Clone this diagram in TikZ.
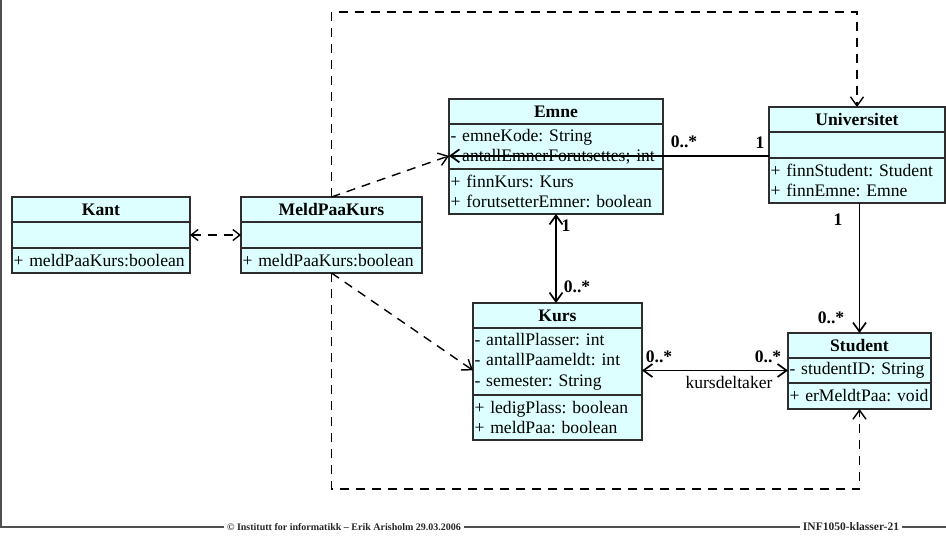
\documentclass[tikz,border=0pt]{standalone}
\usepackage{fontspec}
\setmainfont{Liberation Serif}
\usetikzlibrary{arrows.meta,calc}
\definecolor{classfill}{RGB}{221,255,255}
\definecolor{classline}{RGB}{45,45,45}
\definecolor{footline}{RGB}{80,80,80}
% one unbreakable line of a compartment
\newcommand{\compline}[1]{\mbox{#1}}
\newcommand{\umlfont}{\fontsize{17.6}{20.5}\selectfont\frenchspacing}

\begin{document}
\begin{tikzpicture}[x=1pt,y=-1pt,
  comp/.style={draw=classline, fill=classfill, line width=1.1pt, anchor=north west,
    inner xsep=1.5pt, inner ysep=0pt, outer sep=0pt, font=\umlfont},
  ctitle/.style={comp, align=center, font=\umlfont\bfseries},
  cbody/.style={comp, align=left},
  mult/.style={font=\umlfont\bfseries, inner sep=0pt},
  rolelbl/.style={font=\umlfont, inner sep=0pt},
  assoc/.style={line width=1.7pt, draw=black},
  dep/.style={line width=1.4pt, draw=black, dash pattern=on 9pt off 7pt},
  opentip/.tip={Straight Barb[length=9pt,width=13pt]},
  smalltip/.tip={Straight Barb[length=7pt,width=11pt]},
  foot/.style={font=\fontsize{10}{12}\selectfont\bfseries, inner xsep=3pt, inner ysep=0pt, text=black!85},
  frame/.style={draw=footline, line width=1.2pt}
]
\useasboundingbox (0,0) rectangle (946,547);

% ---------- Kant ----------
\node[ctitle, minimum width=178pt, text width=175pt, minimum height=25pt] (kant-t) at (12,197) {Kant};
\node[cbody, minimum width=178pt, text width=175pt, minimum height=26pt] (kant-m) at (kant-t.south west) {};
\node[cbody, minimum width=178pt, text width=175pt, minimum height=25pt] (kant-o) at (kant-m.south west) {\compline{+ meldPaaKurs:boolean}};

% ---------- MeldPaaKurs ----------
\node[ctitle, minimum width=181pt, text width=178pt, minimum height=25pt] (meld-t) at (241,197) {MeldPaaKurs};
\node[cbody, minimum width=181pt, text width=178pt, minimum height=26pt] (meld-m) at (meld-t.south west) {};
\node[cbody, minimum width=181pt, text width=178pt, minimum height=25pt] (meld-o) at (meld-m.south west) {\compline{+ meldPaaKurs:boolean}};

% ---------- Emne ----------
\node[ctitle, minimum width=214pt, text width=211pt, minimum height=25pt] (emne-t) at (449,99) {Emne};
\node[cbody, minimum width=214pt, text width=211pt, minimum height=45pt] (emne-a) at (emne-t.south west)
  {\compline{- emneKode: String}\\\compline{- antallEmnerForutsettes; int}};
\node[cbody, minimum width=214pt, text width=211pt, minimum height=45pt] (emne-m) at (emne-a.south west)
  {\compline{+ finnKurs: Kurs}\\\compline{+ forutsetterEmner: boolean}};

% ---------- Universitet ----------
\node[ctitle, minimum width=176pt, text width=173pt, minimum height=25pt] (univ-t) at (769,107) {Universitet};
\node[cbody, minimum width=176pt, text width=173pt, minimum height=26pt] (univ-e) at (univ-t.south west) {};
\node[cbody, minimum width=176pt, text width=173pt, minimum height=45pt] (univ-m) at (univ-e.south west)
  {\compline{+ finnStudent: Student}\\\compline{+ finnEmne: Emne}};

% ---------- Kurs ----------
\node[ctitle, minimum width=169pt, text width=166pt, minimum height=25pt] (kurs-t) at (473,303) {Kurs};
\node[cbody, minimum width=169pt, text width=166pt, minimum height=67pt] (kurs-a) at (kurs-t.south west)
  {\compline{- antallPlasser: int}\\\compline{- antallPaameldt: int}\\\compline{- semester: String}};
\node[cbody, minimum width=169pt, text width=166pt, minimum height=45pt] (kurs-m) at (kurs-a.south west)
  {\compline{+ ledigPlass: boolean}\\\compline{+ meldPaa: boolean}};

% ---------- Student ----------
\node[ctitle, minimum width=143pt, text width=140pt, minimum height=25pt] (stud-t) at (788,333) {Student};
\node[cbody, minimum width=143pt, text width=140pt, minimum height=25pt] (stud-a) at (stud-t.south west) {\compline{- studentID: String}};
\node[cbody, minimum width=143pt, text width=140pt, minimum height=26pt] (stud-m) at (stud-a.south west) {\compline{+ erMeldtPaa: void}};

% ---------- dependencies ----------
\draw[dep, {smalltip}-{smalltip}] (kant-m.east) -- (meld-m.west);
\draw[dep, -{opentip}] (meld-t.north) -- (emne-a.185);
\draw[dep, -{opentip}] (meld-o.south) -- (kurs-a.186);
\coordinate (topleft) at (meld-t.north |- 0,12);
\coordinate (botleft) at (meld-o.south |- 0,489);
\draw[dep, -{opentip}] (meld-t.north) -- (topleft) -- (topleft -| univ-t.north) -- (univ-t.north);
\draw[dep, -{opentip}] (meld-o.south) -- (botleft) -- (botleft -| stud-m.south) -- (stud-m.south);

% ---------- associations ----------
\draw[assoc, -{opentip}] (emne-a.185 -| univ-e.west) -- (emne-a.185);
\draw[assoc, {opentip}-{opentip}] (emne-m.south) -- (emne-m.south |- kurs-t.north);
\draw[assoc, -{opentip}] (stud-t.north |- univ-m.south) -- (stud-t.north);
\draw[assoc, {opentip}-{opentip}] (stud-a.west -| kurs-a.east) -- (stud-a.west);

% ---------- multiplicities and role ----------
\node[mult] (m-emne-u) at (684,142) {0..*};
\node[mult] (m-univ-e) at (760,143) {1};
\node[mult] (m-emne-k) at (566,226) {1};
\node[mult] (m-kurs-e) at (577,287) {0..*};
\node[mult] (m-univ-s) at (838,220) {1};
\node[mult] (m-stud-u) at (831,318) {0..*};
\node[mult] (m-kurs-s) at (659,357) {0..*};
\node[mult] (m-stud-k) at (768,357) {0..*};
\node[rolelbl] (role) at (729,382) {kursdeltaker};

% ---------- page frame and footer ----------
\node[foot] (copy) at (344,527) {© Institutt for informatikk – Erik Arisholm 29.03.2006};
\node[foot, font=\fontsize{11.5}{12}\selectfont\bfseries] (code) at (851,527) {INF1050-klasser-21};
\coordinate (ftop) at (1,0);
\coordinate (fcorner) at (1,527);
\coordinate (fend) at (946,527);
\draw[frame] (ftop) -- (fcorner) -- (copy.west);
\draw[frame] (copy.east) -- (code.west);
\draw[frame] (code.east) -- (fend);
\end{tikzpicture}
\end{document}
